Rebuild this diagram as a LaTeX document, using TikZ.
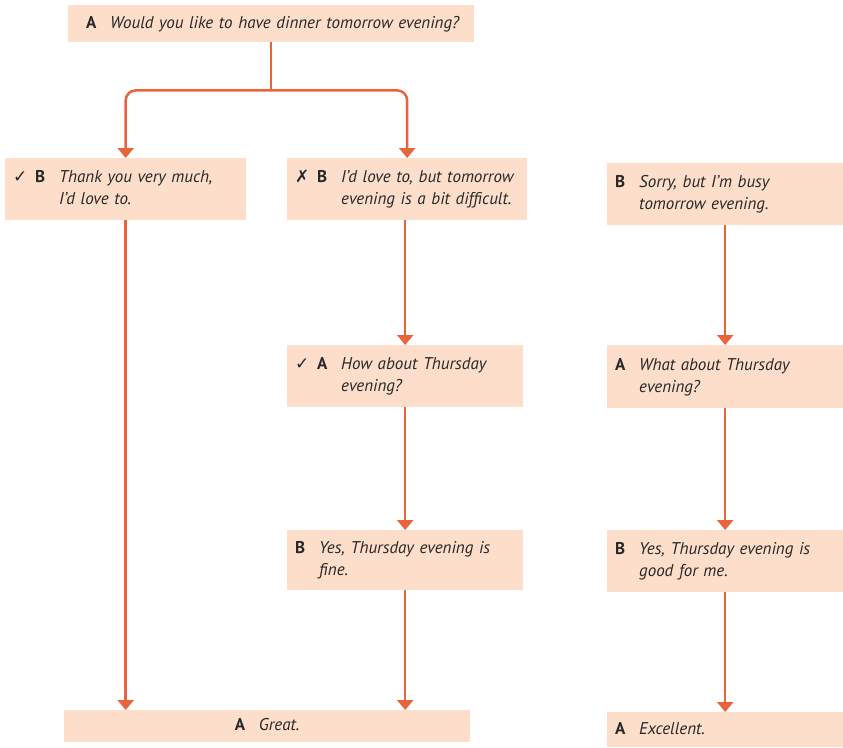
\documentclass[tikz,border=0pt]{standalone}
\usepackage{fontspec}
\usepackage{array}
\setmainfont{PT Sans}
\newfontfamily\symfont{DejaVu Sans}
\usetikzlibrary{arrows.meta}
\definecolor{boxfill}{RGB}{252,222,202}
\definecolor{flowred}{RGB}{232,100,58}
\definecolor{inkgray}{RGB}{40,40,40}
% mark column, speaker column, spoken text
\newcommand\turn[4][0pt]{\begin{tabular}{@{}>{\symfont}p{#1}@{}>{\bfseries}p{24pt}@{}>{\itshape}l@{}}#2&#3&#4\end{tabular}}
\tikzset{
 turnbox/.style 2 args={fill=boxfill, anchor=north west, align=left, inner xsep=8pt, inner ysep=0pt,
   text width=#1pt-16pt, minimum height=#2pt, font=\fontsize{17}{22}\selectfont, text=inkgray},
 stem/.style={draw=flowred, line width=2.5pt},
 flow/.style={stem, -{Triangle[width=16pt,length=10pt]}},
}
\begin{document}
\begin{tikzpicture}[x=1pt,y=-1pt]
 \useasboundingbox (0,0) rectangle (843,747);
 % opening question
 \node[turnbox={406}{37}, inner xsep=18pt, text width=370pt] (ask) at (68,5) {\turn{}{A}{Would you like to have dinner tomorrow evening?}};
 % first answers
 \node[turnbox={241}{62}] (thanks) at (5,158) {\turn[22pt]{\bfseries ✓}{B}{Thank you very much,\\&&I'd love to.}};
 \node[turnbox={240}{62}] (difficult) at (287,158) {\turn[22pt]{\bfseries ✗}{B}{I'd love to, but tomorrow\\&&evening is a bit difficult.}};
 \node[turnbox={236}{62}] (busy) at (607,163) {\turn{}{B}{Sorry, but I'm busy\\&&tomorrow evening.}};
 % new suggestions
 \node[turnbox={236}{62}] (howabout) at (287,345) {\turn[22pt]{\bfseries ✓}{A}{How about Thursday\\&&evening?}};
 \node[turnbox={236}{63}] (whatabout) at (607,345) {\turn{}{A}{What about Thursday\\&&evening?}};
 % replies
 \node[turnbox={236}{60}] (fine) at (287,530) {\turn{}{B}{Yes, Thursday evening is\\&&fine.}};
 \node[turnbox={236}{62}] (goodforme) at (607,530) {\turn{}{B}{Yes, Thursday evening is\\&&good for me.}};
 % closing
 \node[turnbox={406}{32}, align=center] (great) at (64,710) {\turn{}{A}{Great.}};
 \node[turnbox={236}{35}] (excellent) at (607,712) {\turn{}{A}{Excellent.}};
 % connectors
 \path (ask.south) ++(0,48) coordinate (fork);
 \draw[stem] (ask.south) -- (fork);
 \draw[flow, rounded corners=10pt] (fork) -| (thanks.north);
 \draw[flow, rounded corners=10pt] (fork) -| (difficult.north);
 \draw[flow] (thanks.south) -- (thanks.south |- great.north);
 \draw[flow] (howabout.north |- difficult.south) -- (howabout.north);
 \draw[flow] (howabout) -- (fine);
 \draw[flow] (fine.south) -- (fine.south |- great.north);
 \draw[flow] (busy) -- (whatabout);
 \draw[flow] (whatabout) -- (goodforme);
 \draw[flow] (goodforme) -- (excellent);
\end{tikzpicture}
\end{document}
